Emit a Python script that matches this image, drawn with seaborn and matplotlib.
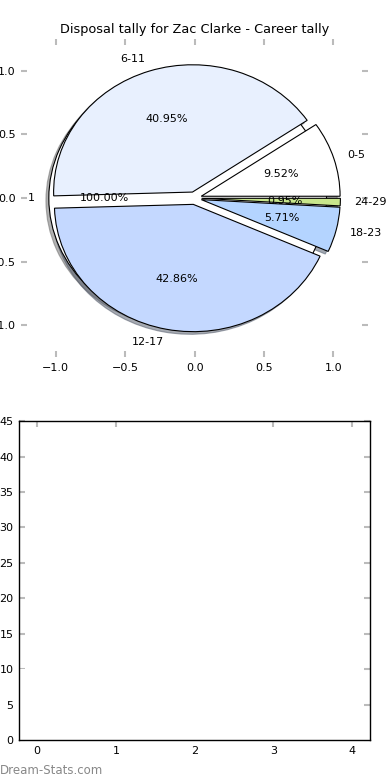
import matplotlib
matplotlib.use("Agg")
import matplotlib.pyplot as plt
import seaborn as sns
import pandas as pd

sns.set_style("white")
plt.rcParams['font.family'] = ['DejaVu Sans']
plt.rcParams['text.color'] = 'black'

title = "Disposal tally for Zac Clarke - Career tally"
categories = ["0-5", "6-11", "12-17", "18-23", "24-29"]
counts = [10, 43, 45, 6, 1]
colors = ["#ffffff", "#e8f0fe", "#c4d8ff", "#b4d4ff", "#c8e68c"]
explode = [0.05, 0.05, 0.05, 0.05, 0.05]
total_label = ["1"]
total_value = [1]
bar_positions = [0, 1, 2, 3, 4]
pie_ticks = [-1.0, -0.5, 0.0, 0.5, 1.0]
bar_yticks = [0, 5, 10, 15, 20, 25, 30, 35, 40, 45]

fig = plt.figure(figsize=(3.9, 7.8), dpi=100)
ax1 = fig.add_axes([0.054, 0.542, 0.890, 0.408])
ax2 = fig.add_axes([0.049, 0.0513, 0.900, 0.4087])

wp = {"edgecolor": "black", "linewidth": 0.8}
tp = {"fontsize": 8, "color": "black"}
shadow = {"ox": -0.015, "oy": -0.015, "shade": 0.6}
ax1.pie(total_value, labels=total_label, colors=["white"], autopct="%.2f%%",
        explode=[0.05], shadow=shadow, wedgeprops=wp, textprops=tp, frame=True)
ax1.pie(counts, labels=categories, colors=colors, explode=explode,
        autopct="%.2f%%", shadow=shadow, wedgeprops=wp, textprops=tp, frame=True)
ax1.set_aspect("auto")
ax1.set_xlim(-1.25, 1.25)
ax1.set_ylim(-1.25, 1.25)
ax1.set_xticks(pie_ticks)
ax1.set_yticks(pie_ticks)
ax1.set_xticklabels([f"{t:.1f}".replace("-", "\u2212") for t in pie_ticks])
ax1.set_yticklabels([f"{t:.1f}".replace("-", "\u2212") for t in pie_ticks])
for s in ax1.spines.values():
    s.set_visible(False)
ax1.set_title(title, fontsize=9.3, pad=4, color="black")

df = pd.DataFrame({"pos": bar_positions, "count": counts})
sns.barplot(data=df, x="pos", y="count", ax=ax2, color="white",
            linewidth=0, width=0.46, native_scale=True)
ax2.set_xlim(-0.23, 4.23)
ax2.set_ylim(0, 45)
ax2.set_xticks(bar_positions)
ax2.set_yticks(bar_yticks)
ax2.set_xlabel("")
ax2.set_ylabel("")
for s in ax2.spines.values():
    s.set_visible(True)
    s.set_color("black")
    s.set_linewidth(1.0)

for ax in (ax1, ax2):
    ax.tick_params(axis="both", which="both", direction="in", length=4, width=1.5,
                   color="#bbbbbb", labelsize=8, labelcolor="black",
                   top=True, right=True, bottom=True, left=True, pad=4)

fig.text(0.0, 0.0128, "Dream-Stats.com", fontsize=8.5, color="#888888",
         ha="left", va="center")

fig.savefig("out.png", dpi=100)
